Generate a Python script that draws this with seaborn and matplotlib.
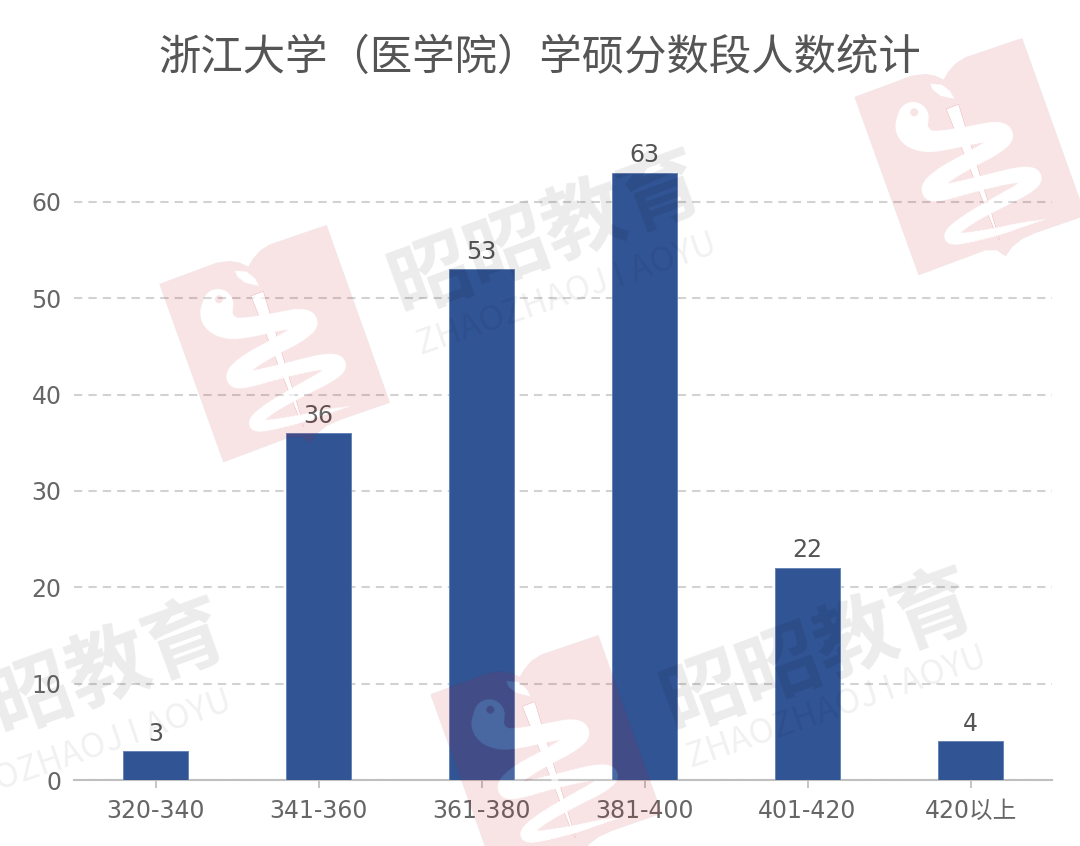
#!/usr/bin/env python3

import numpy as np
import pandas as pd
import seaborn as sns
import matplotlib.pyplot as plt
from matplotlib.path import Path

title = "浙江大学（医学院）学硕分数段人数统计"
categories = ["320-340", "341-360", "361-380", "381-400", "401-420", "420以上"]
counts = [3, 36, 53, 63, 22, 4]
y_ticks = [0, 10, 20, 30, 40, 50, 60]

brand_text = "昭昭教育"
latin_text = "ZHAOZHAOJ I AOYU"
# watermark centres in figure pixels
brand_marks = [(547, 235), (819, 653), (71, 683)]
latin_marks = [(567, 295), (837, 708), (82, 752)]
logo_origins = [(150, 210), (844.7, 23), (420.7, 621)]

# logo outlines, in pixels*3 from the logo origin
book_outline = [(28, 222), (200, 158), (240, 153), (270, 158), (295, 170), (310, 145), (330, 122), (360, 103),
	(530, 45), (720, 578), (570, 630), (530, 648), (500, 672), (480, 700), (455, 682), (420, 682), (220, 757)]
rod_outline = [(303, 258), (340, 244), (462, 650), (456, 645)]
leaf_outline = [(255, 182), (290, 185), (315, 205), (327, 228), (285, 218), (262, 200)]
# snake centre line: x, y, width
snake_line = [(204, 283, 92), (196, 322, 100), (240, 357, 66), (300, 352, 60), (380, 336, 56), (455, 322, 58),
	(482, 338, 58), (440, 375, 52), (375, 410, 48), (295, 455, 52), (250, 497, 56), (268, 516, 50),
	(400, 482, 42), (520, 453, 46), (572, 460, 54), (540, 495, 44), (460, 537, 40), (365, 590, 36),
	(310, 635, 38), (325, 652, 36), (450, 628, 26), (530, 605, 16), (600, 589, 2)]
eye = (207, 268, 12)

W, H = 1080, 846


def chaikin(points, rounds=3):
	pts = np.array(points, dtype=float)
	for _ in range(rounds):
		a = pts[:-1] * 0.75 + pts[1:] * 0.25
		b = pts[:-1] * 0.25 + pts[1:] * 0.75
		mid = np.empty((len(a) * 2, pts.shape[1]))
		mid[0::2] = a
		mid[1::2] = b
		pts = np.vstack([pts[:1], mid, pts[-1:]])
	return pts


def logo_image():
	h, w = 780, 750
	xx, yy = np.meshgrid(np.arange(w) + 0.5, np.arange(h) + 0.5)
	grid = np.column_stack([xx.ravel(), yy.ravel()])
	book = Path(book_outline + book_outline[:1]).contains_points(grid).reshape(h, w)
	rod = Path(rod_outline + rod_outline[:1]).contains_points(grid).reshape(h, w)
	leaf = Path(leaf_outline + leaf_outline[:1]).contains_points(grid).reshape(h, w)
	snake = np.zeros((h, w), dtype=bool)
	for x, y, width in chaikin(snake_line):
		snake |= (xx - x) ** 2 + (yy - y) ** 2 < (width / 2) ** 2
	snake &= (xx - eye[0]) ** 2 + (yy - eye[1]) ** 2 > eye[2] ** 2
	cut = snake | leaf

	img = np.zeros((h, w, 4))
	img[book] = [197 / 255, 22 / 255, 38 / 255, 0.12]
	img[book & cut] = [1, 1, 1, 0.12]
	img[book & rod] = [1, 1, 1, 0.7]
	return img


sns.set_theme(style="white")
plt.rcParams['font.family'] = ['DejaVu Sans', 'Noto Sans CJK SC']

df = pd.DataFrame({"score": categories, "count": counts})

fig = plt.figure(figsize=(W / 100, H / 100), dpi=100, facecolor="white")
ax = fig.add_axes([74 / W, 1 - 780 / H, (1052 - 74) / W, (780 - 105) / H])
ax.patch.set_alpha(0)

sns.barplot(data=df, x="score", y="count", color="#315495", saturation=1, width=0.4, ax=ax, zorder=3,
	edgecolor="#6784b8", linewidth=0.7)

ax.set_xlim(-0.5, 5.5)
ax.set_ylim(0, 675 / 9.635)
ax.set_yticks(y_ticks)
ax.set_xlabel("")
ax.set_ylabel("")
ax.yaxis.grid(True, color="#d2d2d2", linestyle=(0, (4, 2.9)), linewidth=1.5, zorder=1)
ax.xaxis.grid(False)
ax.tick_params(axis="both", labelsize=17, labelcolor="#666666")
ax.tick_params(axis="x", bottom=True, length=6, width=1.2, color="#bbbbbb", pad=8)
ax.tick_params(axis="y", left=False, length=0, pad=9)
sns.despine(ax=ax, left=True)
ax.spines["bottom"].set_color("#c0c0c0")
ax.spines["bottom"].set_linewidth(1.5)

ax.bar_label(ax.containers[0], labels=[str(c) for c in counts], fontsize=17, color="#555555", padding=4)

fig.text(540 / W, 1 - 58 / H, title, ha="center", va="center", fontsize=30.5, color="#555555",
	family=['Noto Sans CJK SC', 'DejaVu Sans'])

# watermarks sit over everything
overlay = fig.add_axes([0, 0, 1, 1], zorder=5)
overlay.patch.set_alpha(0)
logo = logo_image()
for ox, oy in logo_origins:
	overlay.imshow(logo, extent=(ox, ox + 250, oy + 260, oy), aspect="auto", interpolation="antialiased",
		interpolation_stage="rgba")
overlay.set_xlim(0, W)
overlay.set_ylim(H, 0)
overlay.axis("off")
for x, y in brand_marks:
	overlay.text(x, y, brand_text, rotation=20, fontsize=59, fontweight="bold", color="black", alpha=0.08,
		ha="center", va="center", family=['Noto Sans CJK SC', 'DejaVu Sans'])
for x, y in latin_marks:
	overlay.text(x, y, latin_text, rotation=19, fontsize=24.5, color="black", alpha=0.06,
		ha="center", va="center", family=['Noto Sans CJK SC', 'DejaVu Sans'])

fig.savefig("out.png", dpi=100)
